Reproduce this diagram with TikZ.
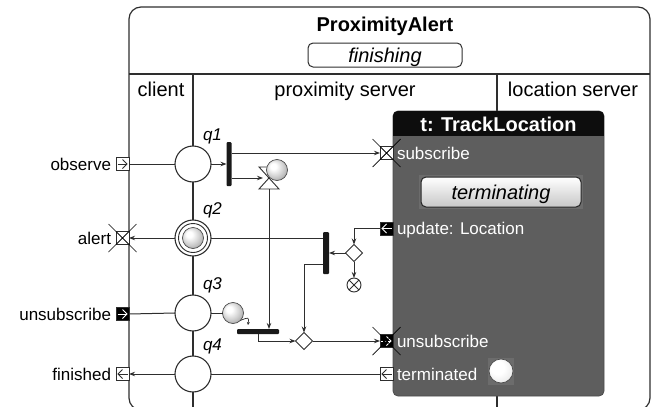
\documentclass[tikz,border=0pt]{standalone}
\usepackage{fontspec}
\setmainfont{Liberation Sans}
\usetikzlibrary{arrows.meta,shapes.geometric,calc}
\definecolor{ln}{HTML}{2E2E2E}
\definecolor{tlgray}{HTML}{5E5E5E}
\definecolor{tlhi}{HTML}{6C6C6C}
\pgfdeclareradialshading{lightball}{\pgfqpoint{-10bp}{10bp}}{color(0bp)=(white); color(7bp)=(white); color(22bp)=(black!20); color(36bp)=(black!42); color(50bp)=(black!60)}
\pgfdeclareradialshading{whiteball}{\pgfqpoint{-10bp}{10bp}}{color(0bp)=(white); color(14bp)=(white); color(30bp)=(black!8); color(42bp)=(black!25); color(50bp)=(black!40)}
\newcommand\fsmall{\fontsize{17}{20}\selectfont}
\newcommand\fbig{\fontsize{20}{24}\selectfont}
\newcommand\iconR[2]{%
  \draw[#2, line width=0.8pt] ([xshift=-5pt]#1.center) -- ([xshift=4.5pt]#1.center);
  \draw[#2, line width=0.8pt] ([yshift=4.5pt]#1.center) -- ([xshift=4.5pt]#1.center) -- ([yshift=-4.5pt]#1.center);}
\newcommand\iconL[2]{%
  \draw[#2, line width=0.8pt] ([xshift=5pt]#1.center) -- ([xshift=-4.5pt]#1.center);
  \draw[#2, line width=0.8pt] ([yshift=4.5pt]#1.center) -- ([xshift=-4.5pt]#1.center) -- ([yshift=-4.5pt]#1.center);}
\newcommand\iconDR[1]{%
  \draw[white, line width=0.8pt, dash pattern=on 2pt off 1.5pt] ([xshift=-5.5pt]#1.center) -- ([xshift=4.5pt]#1.center);
  \draw[white, line width=0.8pt] ([yshift=4.5pt]#1.center) -- ([xshift=4.5pt]#1.center) -- ([yshift=-4.5pt]#1.center);}
\newcommand\bigX[1]{%
  \draw[black, line width=0.7pt] ([shift={(-14pt,14pt)}]#1.center) -- ([shift={(14pt,-14pt)}]#1.center)
    ([shift={(-14pt,-14pt)}]#1.center) -- ([shift={(14pt,14pt)}]#1.center);}
\newcommand\boxX[1]{%
  \draw[ln, line width=0.6pt] (#1.north west) -- (#1.south east) (#1.north east) -- (#1.south west);}
\begin{document}
\begin{tikzpicture}[x=1pt,y=-1pt,
  every node/.style={inner sep=0pt, outer sep=0pt},
  frame/.style={draw=ln, line width=1.2pt},
  stnode/.style={circle, draw=ln, fill=white, minimum size=36pt, line width=1.1pt},
  barnode/.style={fill=black!90, rounded corners=1pt},
  portw/.style={draw=ln, fill=white, minimum width=13pt, minimum height=13pt, line width=0.8pt},
  portb/.style={portw, fill=black},
  tokennode/.style={circle, shading=lightball, draw=black!70, minimum size=21pt, line width=0.7pt},
  decnode/.style={diamond, draw=ln, fill=white, minimum size=17pt, line width=0.9pt},
  flow/.style={draw=ln, line width=1pt},
  arr/.style={flow, -{Stealth[length=6pt,width=4.5pt]}},
  arrsmall/.style={draw=ln, line width=0.7pt, -{Stealth[length=3pt,width=3pt]}},
  lbl/.style={font=\fsmall},
  qlbl/.style={font=\fsmall\itshape, anchor=base west},
]
\useasboundingbox (0,0) rectangle (654,407);

% frame and lanes
\draw[frame, rounded corners=12pt] (129,7) rectangle (650,410);
\draw[frame] (129,74) -- (650,74);
\draw[frame] (193,74) -- (193,410);
\draw[frame] (497,74) -- (497,410);

\node[font=\fbig\bfseries, anchor=base] (title) at (385,31) {ProximityAlert};
\node[draw=ln, line width=1pt, rounded corners=5pt, minimum width=154pt, minimum height=24pt] (fin) at (385,55) {};
\node[font=\fbig\itshape, anchor=base] (fintxt) at (385,62) {finishing};

\node[font=\fbig, anchor=base] (lc) at (161,96) {client};
\node[font=\fbig, anchor=base] (lp) at (345,96) {proximity server};
\node[font=\fbig, anchor=base] (ll) at (573,96) {location server};

% TrackLocation
\node[draw=black!70, fill=tlgray, rounded corners=5pt, minimum width=211pt, minimum height=285pt, anchor=north west, line width=0.8pt] (tl) at (393,111) {};
\begin{scope}
  \clip[rounded corners=5pt] (393,111) rectangle (604,396);
  \fill[black!95] (393,111) rectangle (604,136);
\end{scope}
\node[font=\fbig\bfseries, text=white, anchor=base] (tltitle) at (498.5,131) {t: TrackLocation};

\fill[tlhi] (419,175) rectangle (583,209);
\node[draw=black!85, line width=1pt, rounded corners=5pt, top color=white, bottom color=black!22, minimum width=160pt, minimum height=30pt] (term) at (501,192) {};
\node[font=\fbig\itshape, anchor=base] (termtxt) at (501,199) {terminating};

\fill[tlhi] (488,358) rectangle (514,385);
\node[tokennode, shading=whiteball, minimum size=24pt] (tok4) at (501,371) {};

% states
\node[stnode] (q1) at (193,164) {};
\node[stnode] (q2) at (193,238) {};
\node[stnode] (q3) at (193,313) {};
\node[stnode] (q4) at (193,374) {};
\node[circle, draw=ln, line width=0.9pt, minimum size=29pt] (q2in) at (q2) {};
\node[tokennode] (tok2) at (q2) {};
\node[qlbl] (lq1) at (203,140) {q1};
\node[qlbl] (lq2) at (203,214) {q2};
\node[qlbl] (lq3) at (203,289) {q3};
\node[qlbl] (lq4) at (203,350) {q4};

% bars
\node[barnode, minimum width=5pt, minimum height=44pt] (b1) at (229,164) {};
\node[barnode, minimum width=6pt, minimum height=42pt] (b2) at (326,253) {};
\node[barnode, minimum width=42pt, minimum height=5pt] (jb) at (258,331.5) {};

% hourglass timer
\coordinate (hgw) at (263,178);
\coordinate (hgs) at (269,189);
\draw[ln, fill=white, line width=0.9pt] (259,167) -- (279,167) -- (259,189) -- (279,189) -- cycle;
\node[tokennode] (tok1) at (277,170) {};

% decisions, final
\node[decnode] (d1) at (304,341) {};
\node[decnode] (d2) at (354,253) {};
\node[circle, draw=ln, fill=white, minimum size=14pt, line width=0.9pt] (ff) at (354,285) {};
\draw[ln, line width=0.8pt] (ff.north west) -- (ff.south east) (ff.north east) -- (ff.south west);

\node[tokennode] (tok3) at (233,313) {};

% ports
\node[portw] (obs) at (122.5,164) {};
\node[portw] (alr) at (122.5,238) {};
\node[portb] (uns1) at (122.5,314) {};
\node[portw] (fns) at (122.5,374) {};
\node[portw] (sub) at (386.5,153) {};
\node[portb] (upd) at (386.5,228.5) {};
\node[portb] (uns2) at (386.5,341) {};
\node[portw] (trm) at (386.5,374) {};
\iconR{obs}{ln}
\boxX{alr}\bigX{alr}
\iconR{uns1}{white}
\iconL{fns}{ln}
\boxX{sub}\bigX{sub}
\iconL{upd}{white}
\iconDR{uns2}\bigX{uns2}
\iconL{trm}{ln}

% connectors
\draw[flow] (obs.east) -- (q1.west);
\draw[arr] (q1.east) -- (b1.west |- q1.east);
\draw[arr] (b1.east |- sub.west) -- (sub.west);
\draw[arr] (b1.east |- hgw) -- (hgw);
\draw[arr] (hgs) -- (hgs |- jb.north);
\draw[arr] (q2.west) -- (alr.east);
\draw[flow] (q2.east) -- (b2.west |- q2.east);
\draw[arr] (upd.west) -| (d2.north);
\draw[arr] (d2.west) -- (b2.east |- d2.west);
\draw[arr] (d2.south) -- (ff.north);
\draw[arr] ([yshift=-11pt]b2.west) -| (d1.north);
\draw[flow] (uns1.east) -- (q3.west);
\draw[flow] (q3.east) -- (tok3.west);
\draw[arrsmall] (tok3.south east) .. controls (249,317) .. (248,325);
\draw[arr] (jb.south) |- (d1.west);
\draw[arr] (d1.east) -- (uns2.west);
\draw[flow] (trm.west) -- (q4.east);
\draw[arr] (q4.west) -- (fns.east);

% labels
\node[lbl, anchor=base east] (tobs) at (111,170) {observe};
\node[lbl, anchor=base east] (talr) at (111,244) {alert};
\node[lbl, anchor=base east] (tuns1) at (111,320) {unsubscribe};
\node[lbl, anchor=base east] (tfns) at (111,380) {finished};
\node[lbl, text=white, anchor=base west] (tsub) at (397,159) {subscribe};
\node[lbl, text=white, anchor=base west] (tupd) at (397,234) {update: Location};
\node[lbl, text=white, anchor=base west] (tuns2) at (397,347) {unsubscribe};
\node[lbl, text=white, anchor=base west] (ttrm) at (397,380) {terminated};
\end{tikzpicture}
\end{document}
